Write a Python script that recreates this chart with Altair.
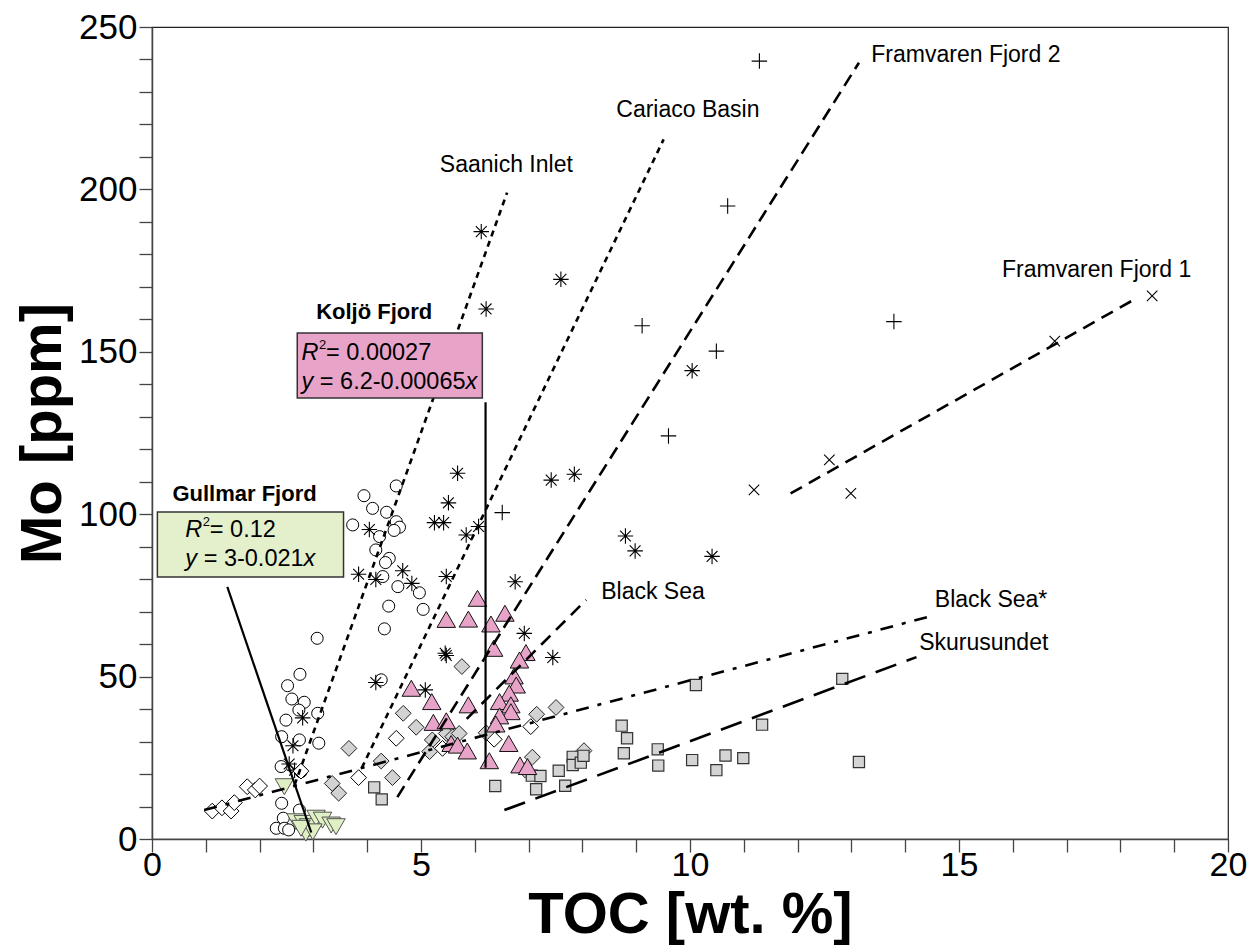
import altair as alt
import pandas as pd

# ---------------- data ----------------
# open circles
circ_x = [3.94, 4.10, 4.36, 4.54, 3.73, 4.54, 4.23, 4.16, 4.41, 4.34, 4.29, 4.57, 4.40, 4.32,
          3.07, 2.75, 2.52, 2.83, 2.60, 2.73, 2.49, 3.08, 3.10, 2.41, 2.74, 2.40, 2.77, 2.41,
          2.44, 2.74, 2.31, 2.46, 2.54, 2.80, 2.99, 2.93, 4.97, 5.04, 4.26, 4.60, 4.50]
circ_y = [105.7, 101.8, 100.6, 108.7, 96.7, 97.7, 93.1, 89.0, 86.4, 85.1, 80.8, 77.7, 71.7, 64.7,
          61.8, 50.7, 47.2, 42.1, 43.1, 39.7, 36.6, 38.7, 29.5, 31.5, 30.5, 22.3, 20.7, 11.0,
          6.4, 8.9, 3.3, 3.3, 2.8, 4.8, 3.8, 2.8, 75.8, 70.7, 49.0, 96.0, 95.0]
# asterisks
ast_x = [6.12, 6.21, 7.60, 5.68, 5.51, 5.25, 5.42, 7.42, 7.85, 6.07, 5.84, 8.80, 8.98, 6.75,
         4.66, 4.83, 5.47, 5.45, 5.47, 6.92, 7.45, 5.08, 4.04, 3.84, 4.16, 4.16, 2.80, 2.62,
         2.55, 2.65, 10.04, 10.41]
ast_y = [187.0, 163.2, 172.3, 112.6, 103.5, 97.4, 97.4, 110.5, 112.3, 96.2, 93.6, 93.3, 88.7, 79.2,
         82.6, 78.7, 80.8, 57.2, 56.5, 63.3, 55.9, 45.9, 95.3, 81.5, 79.9, 48.2, 37.3, 28.7,
         23.1, 21.2, 144.2, 87.0]
# plus signs
plus_x = [11.29, 10.70, 9.11, 10.49, 9.60, 13.79, 6.51]
plus_y = [239.5, 194.9, 158.0, 150.2, 124.1, 159.3, 100.5]
# x crosses
xcr_x = [11.19, 12.59, 12.99, 16.78, 18.59]
xcr_y = [107.5, 116.7, 106.4, 153.3, 167.2]
# open diamonds
odia_x = [1.12, 1.30, 1.47, 1.53, 1.77, 1.92, 2.00, 2.77, 3.84, 4.54, 6.36, 7.04, 5.40]
odia_y = [8.6, 9.6, 8.6, 11.2, 16.1, 15.1, 16.3, 20.9, 18.9, 31.0, 30.7, 34.6, 27.9]
# grey diamonds
gdia_x = [3.66, 3.35, 3.47, 4.26, 4.47, 5.76, 4.67, 4.91, 5.21, 5.16, 5.47, 5.59, 5.71, 6.21,
          7.51, 7.15, 7.07, 6.94, 8.03]
gdia_y = [27.9, 17.1, 14.1, 24.0, 18.9, 53.1, 38.7, 34.4, 30.5, 26.9, 32.5, 31.5, 32.5, 32.7,
          40.5, 38.4, 25.2, 21.2, 27.2]
# grey squares
sq_x = [4.13, 4.27, 6.38, 7.06, 7.22, 7.14, 7.56, 7.68, 7.82, 7.82, 7.97, 8.02, 8.73, 8.83,
        8.77, 9.40, 9.41, 10.04, 10.11, 11.34, 12.83, 10.49, 10.66, 10.99, 13.14]
sq_y = [15.9, 12.2, 16.3, 19.5, 19.4, 15.3, 21.0, 16.4, 25.3, 22.8, 23.5, 25.6, 34.9, 31.0,
        26.4, 27.6, 22.6, 24.3, 47.4, 35.2, 49.3, 21.2, 25.7, 24.9, 23.7]
# Koljö Fjord (pink triangles)
kol_x = [6.05, 5.47, 5.88, 6.30, 6.56, 6.35, 6.95, 6.83, 6.73, 6.77, 4.82, 5.20, 5.88, 6.64,
         6.46, 6.67, 6.67, 6.46, 6.39, 5.23, 5.47, 5.56, 5.68, 5.86, 6.63, 6.27, 6.84, 6.98]
kol_y = [74.1, 67.6, 67.7, 66.2, 69.5, 58.7, 57.4, 55.1, 50.2, 47.4, 46.4, 42.3, 41.3, 44.9,
         42.3, 41.3, 39.2, 37.9, 35.4, 35.9, 36.4, 29.4, 28.9, 27.1, 29.4, 24.1, 22.8, 22.3]
# Gullmar Fjord (green triangles)
gul_x = [2.46, 2.68, 2.81, 2.91, 3.05, 3.17, 3.33, 3.42, 2.86, 2.99, 2.77]
gul_y = [16.1, 5.3, 4.8, 3.8, 6.4, 5.8, 4.3, 3.8, 1.8, 2.2, 3.3]

# trend lines
line_names = ["Saanich Inlet", "Cariaco Basin", "Framvaren Fjord 2", "Black Sea",
              "Black Sea*", "Skurusundet", "Framvaren Fjord 1"]
line_x0 = [2.65, 3.90, 4.56, 5.85, 0.97, 6.55, 11.87]
line_y0 = [16.6, 21.9, 12.9, 37.0, 8.9, 8.9, 106.4]
line_x1 = [6.60, 9.51, 13.14, 8.07, 14.54, 14.21, 18.31]
line_y1 = [199.0, 215.4, 239.0, 73.6, 68.9, 56.0, 166.6]
line_dash = [[6, 5], [6, 5], [13, 7], [13, 8], [13, 9, 4, 9], [22, 11], [13, 8]]

# labels of trend lines
lab_text = ["Saanich Inlet", "Cariaco Basin", "Framvaren Fjord 2", "Framvaren Fjord 1",
            "Black Sea", "Black Sea*", "Skurusundet"]
lab_x = [5.35, 8.63, 13.37, 15.80, 8.35, 14.55, 14.26]
lab_y = [207.5, 224.4, 241.4, 175.2, 76.0, 73.6, 60.3]

# leader lines (solid)
lead_x0 = [1.40, 6.20]
lead_y0 = [77.6, 134.5]
lead_x1 = [2.96, 6.20]
lead_y1 = [2.0, 21.9]

# ---------------- chart ----------------
FONT = "Liberation Sans"
XS = alt.Scale(domain=[0, 20], nice=False, zero=False)
YS = alt.Scale(domain=[0, 250], nice=False, zero=False)

x_axis = alt.Axis(values=list(range(0, 21)), format="d",
                  labelExpr="datum.value % 5 === 0 ? datum.label : ''",
                  title="TOC [wt. %]", titleFont=FONT, titleFontSize=58, titleFontWeight="bold",
                  titleColor="black", titlePadding=4,
                  labelFont=FONT, labelFontSize=34, labelColor="black", labelPadding=-4,
                  labelOverlap=False, labelFlush=False, labelBound=False,
                  tickSize=13, tickColor="#444", tickWidth=1.3,
                  domainColor="#444", domainWidth=1.5, grid=False)
y_axis = alt.Axis(values=list(range(0, 251, 10)), format="d",
                  labelExpr="datum.value % 50 === 0 ? datum.label : ''",
                  title="Mo [ppm]", titleFont=FONT, titleFontSize=58, titleFontWeight="bold",
                  titleColor="black", titlePadding=6,
                  labelFont=FONT, labelFontSize=35, labelColor="black", labelPadding=2,
                  labelOverlap=False, labelFlush=False, labelBound=False,
                  tickSize=13, tickColor="#444", tickWidth=1.3,
                  domainColor="#444", domainWidth=1.5, grid=False)


def X(f="x"):
    return alt.X(f"{f}:Q", scale=XS, axis=x_axis)


def Y(f="y"):
    return alt.Y(f"{f}:Q", scale=YS, axis=y_axis)


def pts(xs, ys):
    return pd.DataFrame({"x": xs, "y": ys})


def sym(xs, ys, shape, size, fill=None, stroke="black", sw=1.0):
    if fill is None:
        m = alt.Chart(pts(xs, ys)).mark_point(shape=shape, size=size, filled=False,
                                               stroke=stroke, strokeWidth=sw, opacity=1)
    else:
        m = alt.Chart(pts(xs, ys)).mark_point(shape=shape, size=size, filled=True,
                                               fill=fill, stroke=stroke, strokeWidth=sw,
                                               opacity=1, fillOpacity=1)
    return m.encode(x=X(), y=Y())


PLUS = "M-1,0L1,0M0,-1L0,1"
XCROSS = "M-1,-1L1,1M-1,1L1,-1"
ASTER = "M0,-1L0,1M-1,0L1,0M-0.7,-0.7L0.7,0.7M-0.7,0.7L0.7,-0.7"

layers = []
layers.append(sym(circ_x, circ_y, "circle", 145, fill="white", stroke="black", sw=1.0))
layers.append(sym(ast_x, ast_y, ASTER, 240, stroke="black", sw=1.1))
layers.append(sym(plus_x, plus_y, PLUS, 240, stroke="black", sw=1.1))
layers.append(sym(xcr_x, xcr_y, XCROSS, 110, stroke="black", sw=1.1))
layers.append(sym(odia_x, odia_y, "diamond", 250, fill="white", stroke="black", sw=1.0))
layers.append(sym(gdia_x, gdia_y, "diamond", 250, fill="#d2d2d2", stroke="#222", sw=1.0))
layers.append(sym(sq_x, sq_y, "square", 125, fill="#d4d4d4", stroke="#333", sw=1.2))
layers.append(sym(kol_x, kol_y, "triangle-up", 340, fill="#e8a4c8", stroke="#111", sw=1.0))
layers.append(sym(gul_x, gul_y, "triangle-down", 340, fill="#def0c4", stroke="#555", sw=1.0))

# trend lines
for i, name in enumerate(line_names):
    df = pd.DataFrame({"x": [line_x0[i], line_x1[i]], "y": [line_y0[i], line_y1[i]]})
    layers.append(alt.Chart(df).mark_line(color="black", strokeWidth=2.6,
                                          strokeDash=line_dash[i], strokeCap="butt")
                  .encode(x=X(), y=Y()))

# leader lines
for i in range(len(lead_x0)):
    df = pd.DataFrame({"x": [lead_x0[i], lead_x1[i]], "y": [lead_y0[i], lead_y1[i]]})
    layers.append(alt.Chart(df).mark_line(color="black", strokeWidth=2.2)
                  .encode(x=X(), y=Y()))

# trend line labels
lab_df = pd.DataFrame({"x": lab_x, "y": lab_y, "t": lab_text})
layers.append(alt.Chart(lab_df).mark_text(align="left", baseline="middle", font=FONT,
                                          fontSize=23, color="black")
              .encode(x=X(), y=Y(), text="t:N"))

# annotation boxes
box_df = pd.DataFrame({"x1": [0.10, 2.70], "x2": [3.56, 6.14],
                       "y1": [100.7, 155.8], "y2": [80.7, 135.8],
                       "c": ["#e4f0cc", "#e8a4c8"]})
layers.append(alt.Chart(box_df).mark_rect(stroke="#333", strokeWidth=1.5)
              .encode(x=X("x1"), x2="x2", y=Y("y1"), y2="y2",
                      fill=alt.Fill("c:N", scale=None)))

box_title_df = pd.DataFrame({"x": [1.72, 4.13], "y": [106.2, 162.3],
                             "t": ["Gullmar Fjord", "Koljö Fjord"]})
layers.append(alt.Chart(box_title_df).mark_text(align="center", baseline="middle", font=FONT,
                                                fontSize=22, fontWeight="bold", color="black")
              .encode(x=X(), y=Y(), text="t:N"))

# equation texts with italic parts
W = {c: 0.556 for c in "0123456789"}
W.update({".": 0.278, "-": 0.333, "=": 0.584, " ": 0.278, "x": 0.5, "y": 0.5, "R": 0.722})
FS = 23.5


def tw(s):
    return sum(W.get(c, 0.55) for c in s) * FS


eq_r2 = ["= 0.12", "= 0.00027"]
eq_lin = ["= 3-0.021", "= 6.2-0.00065"]
eq_x = [0.62, 2.78]
eq_y1 = [95.1, 149.6]
eq_y2 = [86.2, 140.7]

for i in range(2):
    parts = [
        ("R", "italic", 0, eq_y1[i], 0, FS),
        ("2", "normal", tw("R") + 0.5, eq_y1[i], -8, 13),
        (eq_r2[i], "normal", tw("R") + 7.5, eq_y1[i], 0, FS),
        ("y", "italic", 0, eq_y2[i], 0, FS),
        (eq_lin[i], "normal", tw("y "), eq_y2[i], 0, FS),
        ("x", "italic", tw("y ") + tw(eq_lin[i]), eq_y2[i], 0, FS),
    ]
    for txt, style, dx, yy, dy, fs in parts:
        d = pd.DataFrame({"x": [eq_x[i]], "y": [yy], "t": [txt]})
        layers.append(alt.Chart(d).mark_text(align="left", baseline="middle", font=FONT,
                                             fontSize=fs, fontStyle=style, color="black",
                                             dx=dx, dy=dy)
                      .encode(x=X(), y=Y(), text="t:N"))

chart = alt.layer(*layers).properties(
    width=1076, height=812,
    padding={"left": 152, "top": 27, "right": 24, "bottom": 113},
    autosize="none",
    background="white",
).configure_view(stroke="#222", strokeWidth=1.2)

chart.save("out.html", embed_options={"renderer": "svg", "actions": False})
